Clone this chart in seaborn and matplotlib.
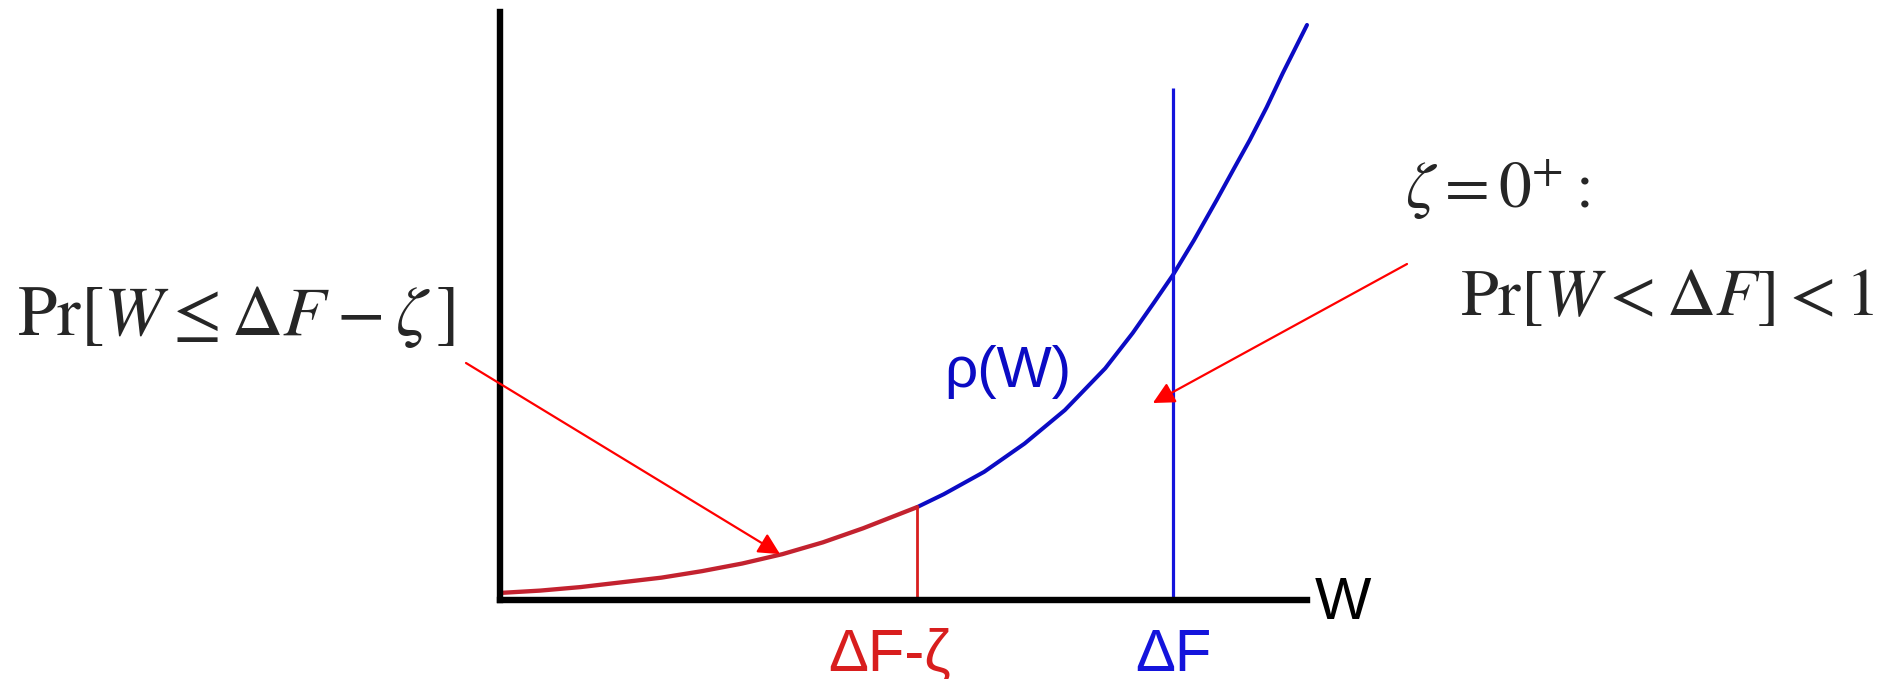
import numpy as np
import matplotlib
matplotlib.use("Agg")
import matplotlib.pyplot as plt
import seaborn as sns

# Work W (horizontal) and density rho(W) sampled along the curve
w_values = [0.000, 0.050, 0.100, 0.150, 0.200, 0.250, 0.300, 0.350, 0.400,
            0.450, 0.517, 0.550, 0.600, 0.650, 0.700, 0.750, 0.784, 0.810,
            0.834, 0.860, 0.888, 0.910, 0.929, 0.950, 0.970, 0.985, 1.000]
rho_values = [0.012, 0.016, 0.022, 0.030, 0.038, 0.049, 0.062, 0.078, 0.098,
              0.122, 0.158, 0.180, 0.218, 0.266, 0.323, 0.394, 0.454, 0.505,
              0.553, 0.612, 0.680, 0.735, 0.782, 0.838, 0.896, 0.937, 0.978]

delta_f_minus_zeta = 0.517   # position of ΔF-ζ on the W axis
delta_f = 0.834              # position of ΔF on the W axis
delta_f_line_top = 0.871     # height of the ΔF marker line

tick_labels = ["ΔF-ζ", "ΔF"]
axis_label = "W"
curve_label = "ρ(W)"

RED_CURVE = "#c3222f"
RED_LINE = "#d81e1e"
ARROW_RED = "#ff0000"
BLUE = "#0b0bc4"
BLUE_LINE = "#1414dc"

sns.set_style("white")
plt.rcParams["font.family"] = ["Liberation Sans", "DejaVu Sans"]
plt.rcParams["mathtext.fontset"] = "stix"

W_PX, H_PX = 1896, 679
fig = plt.figure(figsize=(W_PX / 100, H_PX / 100), dpi=100)
ax = fig.add_axes([500 / W_PX, (H_PX - 600) / H_PX, 807 / W_PX, 588 / H_PX])
ax.set_xlim(0, 1)
ax.set_ylim(0, 1)

w = np.array(w_values)
rho = np.array(rho_values)
low = w <= delta_f_minus_zeta + 1e-9
high = w >= delta_f_minus_zeta - 1e-9

sns.lineplot(x=w[high], y=rho[high], color=BLUE, linewidth=2.9, ax=ax,
             sort=False, solid_capstyle="round", solid_joinstyle="round", clip_on=False)
sns.lineplot(x=w[low], y=rho[low], color=RED_CURVE, linewidth=3.1, ax=ax,
             sort=False, solid_capstyle="round", solid_joinstyle="round", clip_on=False)

rho_at_cut = rho[w_values.index(delta_f_minus_zeta)]
ax.vlines(delta_f_minus_zeta, 0, rho_at_cut, color=RED_LINE, linewidth=2.0)
ax.vlines(delta_f, 0, delta_f_line_top, color=BLUE_LINE, linewidth=2.3)

# axes drawn as two thick black strokes
for side in ["top", "right"]:
    ax.spines[side].set_visible(False)
for side in ["left", "bottom"]:
    ax.spines[side].set_linewidth(4.6)
    ax.spines[side].set_color("black")
    ax.spines[side].set_capstyle("projecting")
ax.set_xticks([])
ax.set_yticks([])
ax.set_xlabel("")
ax.set_ylabel("")

# tick-style labels under the W axis
ax.text(delta_f_minus_zeta - 0.034, -0.12, tick_labels[0], color=RED_LINE,
        fontsize=43, ha="center", va="baseline", clip_on=False)
ax.text(delta_f, -0.12, tick_labels[1], color=BLUE_LINE,
        fontsize=43, ha="center", va="baseline", clip_on=False)
ax.text(1.009, -0.032, axis_label, color="black", fontsize=43,
        ha="left", va="baseline", clip_on=False)

# curve label
ax.text(0.55, 0.362, curve_label, color=BLUE, fontsize=42,
        ha="left", va="baseline", clip_on=False)

# annotations in serif math type
fig.text(17 / W_PX, 1 - 335 / H_PX, r"$\mathrm{Pr}[W \leq \Delta F - \zeta\,]$",
         fontsize=51, ha="left", va="baseline")
fig.text(1405 / W_PX, 1 - 208 / H_PX, r"$\zeta = 0^{+}:$",
         fontsize=47, ha="left", va="baseline")
fig.text(1460 / W_PX, 1 - 315 / H_PX, r"$\mathrm{Pr}[W < \Delta F] < 1$",
         fontsize=49, ha="left", va="baseline")

arrow_style = dict(arrowstyle="-|>,head_length=0.65,head_width=0.33",
                   mutation_scale=20, color=ARROW_RED, linewidth=1.6,
                   shrinkA=0, shrinkB=0)
ax.annotate("", xy=(0.347, 0.078), xycoords="data",
            xytext=(466 / W_PX, 1 - 363 / H_PX), textcoords="figure fraction",
            arrowprops=arrow_style, annotation_clip=False)
ax.annotate("", xy=(0.809, 0.335), xycoords="data",
            xytext=(1407 / W_PX, 1 - 264 / H_PX), textcoords="figure fraction",
            arrowprops=arrow_style, annotation_clip=False)

fig.savefig("out.png", dpi=100, facecolor="white")
